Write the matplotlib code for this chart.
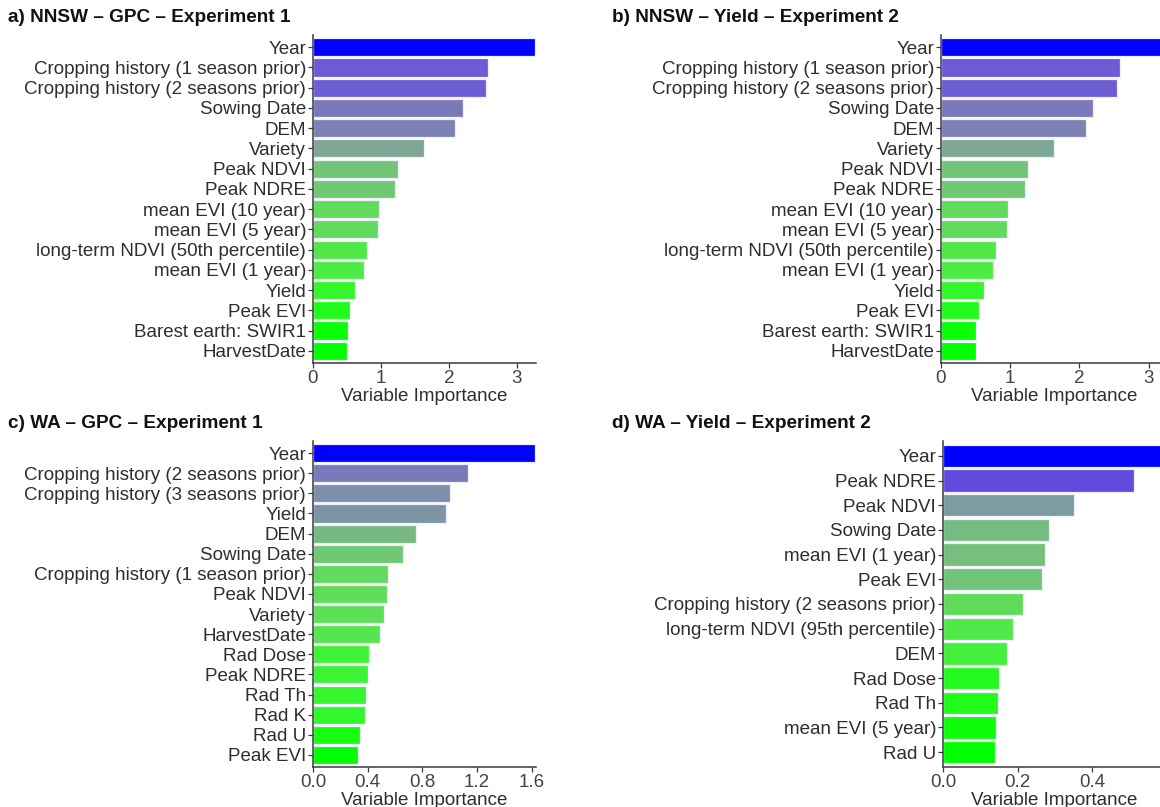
import numpy as np
import matplotlib
matplotlib.use("Agg")
import matplotlib.pyplot as plt

plt.rcParams['font.family'] = ['Liberation Sans', 'DejaVu Sans']

# ---- data -------------------------------------------------------------
nnsw_labels = [
    "Year", "Cropping history (1 season prior)", "Cropping history (2 seasons prior)",
    "Sowing Date", "DEM", "Variety", "Peak NDVI", "Peak NDRE", "mean EVI (10 year)",
    "mean EVI (5 year)", "long-term NDVI (50th percentile)", "mean EVI (1 year)",
    "Yield", "Peak EVI", "Barest earth: SWIR1", "HarvestDate",
]
nnsw_gpc_values = [3.27, 2.58, 2.55, 2.20, 2.09, 1.63, 1.25, 1.21, 0.97, 0.96,
                   0.79, 0.75, 0.62, 0.55, 0.51, 0.50]
nnsw_yield_values = [3.27, 2.58, 2.55, 2.20, 2.09, 1.63, 1.25, 1.21, 0.97, 0.96,
                     0.79, 0.75, 0.62, 0.55, 0.51, 0.50]

wa_gpc_labels = [
    "Year", "Cropping history (2 seasons prior)", "Cropping history (3 seasons prior)",
    "Yield", "DEM", "Sowing Date", "Cropping history (1 season prior)", "Peak NDVI",
    "Variety", "HarvestDate", "Rad Dose", "Peak NDRE", "Rad Th", "Rad K", "Rad U",
    "Peak EVI",
]
wa_gpc_values = [1.626, 1.134, 1.003, 0.975, 0.751, 0.656, 0.552, 0.541, 0.522,
                 0.492, 0.410, 0.404, 0.391, 0.380, 0.344, 0.331]

wa_yield_labels = [
    "Year", "Peak NDRE", "Peak NDVI", "Sowing Date", "mean EVI (1 year)", "Peak EVI",
    "Cropping history (2 seasons prior)", "long-term NDVI (95th percentile)", "DEM",
    "Rad Dose", "Rad Th", "mean EVI (5 year)", "Rad U",
]
wa_yield_values = [0.595, 0.511, 0.350, 0.283, 0.273, 0.264, 0.213, 0.188, 0.171,
                   0.149, 0.147, 0.141, 0.139]

panel_titles = [
    "a) NNSW \u2013 GPC \u2013 Experiment 1",
    "b) NNSW \u2013 Yield \u2013 Experiment 2",
    "c) WA \u2013 GPC \u2013 Experiment 1",
    "d) WA \u2013 Yield \u2013 Experiment 2",
]
x_ticks = [[0, 1, 2, 3], [0, 1, 2, 3],
           [0.0, 0.4, 0.8, 1.2, 1.6], [0.0, 0.2, 0.4]]
x_ticklabels = [["0", "1", "2", "3"], ["0", "1", "2", "3"],
                ["0.0", "0.4", "0.8", "1.2", "1.6"], ["0.0", "0.2", "0.4"]]
x_label = "Variable Importance"


# ---- colour gradient (interpolated in CIELAB, green -> blue) -------------
_M = np.array([[0.4124564, 0.3575761, 0.1804375],
               [0.2126729, 0.7151522, 0.0721750],
               [0.0193339, 0.1191920, 0.9503041]])
_WHITE = np.array([0.95047, 1.0, 1.08883])
_D = 6 / 29


def srgb_to_lab(rgb):
    c = np.asarray(rgb, float)
    lin = np.where(c <= 0.04045, c / 12.92, ((c + 0.055) / 1.055) ** 2.4)
    xyz = _M @ lin / _WHITE
    f = np.where(xyz > _D ** 3, np.cbrt(xyz), xyz / (3 * _D ** 2) + 4 / 29)
    return np.array([116 * f[1] - 16, 500 * (f[0] - f[1]), 200 * (f[1] - f[2])])


def lab_to_srgb(lab):
    L, a, b = lab
    fy = (L + 16) / 116
    fx = fy + a / 500
    fz = fy - b / 200
    f = np.array([fx, fy, fz])
    xyz = np.where(f > _D, f ** 3, 3 * _D ** 2 * (f - 4 / 29)) * _WHITE
    lin = np.linalg.solve(_M, xyz)
    lin = np.clip(lin, 0, 1)
    c = np.where(lin <= 0.0031308, 12.92 * lin, 1.055 * lin ** (1 / 2.4) - 0.055)
    return np.clip(c, 0, 1)


LOW = srgb_to_lab([0.0, 1.0, 0.0])
HIGH = srgb_to_lab([0.0, 0.0, 1.0])


def fill_colours(values):
    v = np.asarray(values, float)
    t = (v - v.min()) / (v.max() - v.min())
    return [lab_to_srgb(LOW + ti * (HIGH - LOW)) for ti in t]


# ---- figure -------------------------------------------------------------
W, H = 1160, 807
fig = plt.figure(figsize=(W / 100, H / 100), dpi=100)
fig.patch.set_facecolor("white")


def px_axes(left, top, right, bottom):
    return fig.add_axes([left / W, 1 - bottom / H, (right - left) / W, (bottom - top) / H])


panels = [
    (nnsw_labels, nnsw_gpc_values, (313, 35, 536, 363), (8, 18)),
    (nnsw_labels, nnsw_yield_values, (941, 35, 1168, 363), (612, 18)),
    (wa_gpc_labels, wa_gpc_values, (313, 441, 536, 767), (8, 423)),
    (wa_yield_labels, wa_yield_values, (943, 441, 1166, 767), (612, 423)),
]

text_col = "#2e2e2e"
tick_col = "#444444"
axis_col = "#3a3a3a"
fs = 13.5

for i, (labels, values, box, title_xy) in enumerate(panels):
    ax = px_axes(*box)
    n = len(values)
    ypos = np.arange(n)[::-1]
    ax.barh(ypos, values, height=0.9, color=fill_colours(values),
            edgecolor="#eeeefc", linewidth=0.9)
    ax.set_ylim(-0.6, n - 0.4)
    ax.set_xlim(0, max(values) * 1.003)
    ax.set_yticks(ypos)
    ax.set_yticklabels(labels)
    ax.set_xticks(x_ticks[i])
    ax.set_xticklabels(x_ticklabels[i])
    ax.set_xlabel(x_label, fontsize=fs, color=text_col, labelpad=0.5)
    for s in ("top", "right"):
        ax.spines[s].set_visible(False)
    for s in ("left", "bottom"):
        ax.spines[s].set_color(axis_col)
        ax.spines[s].set_linewidth(1.1)
    ax.tick_params(axis="both", colors=axis_col, length=3.5, width=0.9,
                   labelsize=fs, labelcolor=text_col, pad=1.5)
    ax.tick_params(axis="x", labelcolor=tick_col)
    fig.text(title_xy[0] / W, 1 - title_xy[1] / H, panel_titles[i],
             fontsize=13.7, fontweight="bold", color="#111111",
             ha="left", va="center")

fig.savefig("out.png", dpi=100, facecolor="white")
